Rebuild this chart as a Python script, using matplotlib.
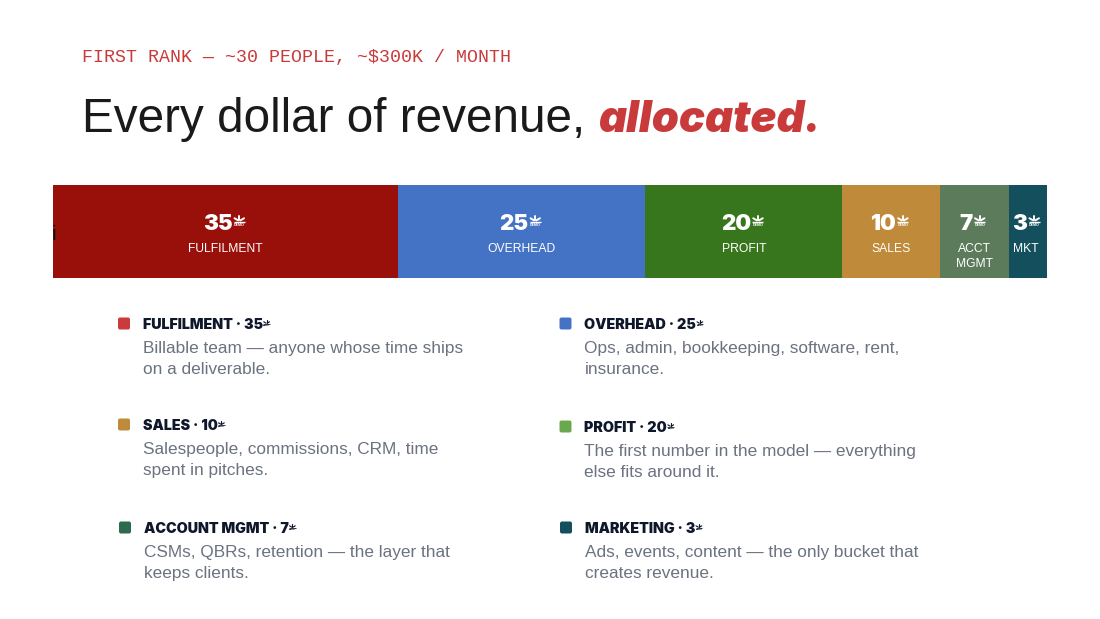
import matplotlib
matplotlib.use("Agg")
import matplotlib.pyplot as plt
from matplotlib.patches import FancyBboxPatch
import numpy as np

W, H = 1100, 619
SANS = "Liberation Sans"
MONO = "Liberation Mono"
HEAVY = "Inter"

# ---- data ----
bar_labels = ["FULFILMENT", "OVERHEAD", "PROFIT", "SALES", "ACCT\nMGMT", "MKT"]
bar_percent = [35, 25, 20, 10, 7, 3]
# widths as drawn: the smallest segment is held wider than its share in the picture
bar_widths = [35, 25.1, 20, 9.85, 7, 3.9]
bar_colors = ["#990F0A", "#4472C4", "#38761D", "#BF8A3A", "#5B7B5B", "#134F5C"]

legend_titles = ["FULFILMENT", "OVERHEAD", "SALES", "PROFIT", "ACCOUNT MGMT", "MARKETING"]
legend_percent = [35, 25, 10, 20, 7, 3]
legend_colors = ["#CC3B3B", "#4472C4", "#BF8A3A", "#6AA84F", "#2D6A4F", "#134F5C"]
legend_text = [
    ["Billable team — anyone whose time ships", "on a deliverable."],
    ["Ops, admin, bookkeeping, software, rent,", "insurance."],
    ["Salespeople, commissions, CRM, time", "spent in pitches."],
    ["The first number in the model — everything", "else fits around it."],
    ["CSMs, QBRs, retention — the layer that", "keeps clients."],
    ["Ads, events, content — the only bucket that", "creates revenue."],
]
legend_x = [118, 559.5, 118, 559.5, 119, 560]
legend_y = [323.5, 323.5, 424.5, 426.5, 527.5, 527.5]

eyebrow = "FIRST RANK — ~30 PEOPLE, ~$300K / MONTH"
title_plain = "Every dollar of revenue,"
title_accent = "allocated."
RED = "#C93A3A"

fig = plt.figure(figsize=(W / 100, H / 100), dpi=100, facecolor="white")

# ---- stacked bar, on its own data scale ----
bx = fig.add_axes([53 / W, 1 - 278 / H, 994 / W, 93.5 / H])
left = 0
lefts = []
for w, c in zip(bar_widths, bar_colors):
    bx.barh(0, w, left=left, height=1, color=c, linewidth=0)
    lefts.append(left)
    left += w
bx.set_xlim(0, sum(bar_widths))
bx.set_ylim(-0.5, 0.5)
bx.axis("off")

# ---- page overlay in pixel coordinates ----
ax = fig.add_axes([0, 0, 1, 1], facecolor="none")
ax.set_xlim(0, W)
ax.set_ylim(H, 0)
ax.axis("off")
renderer = fig.canvas.get_renderer()


def width_of(t):
    return t.get_window_extent(renderer).width


def splash(x, cy, size, color, demo_size):
    """Small splash mark with its tiny caption, as the picture shows after each number."""
    angles = np.deg2rad([90, 30, 150])
    for a in angles:
        r0 = 0.12 * size
        ax.plot([x + r0 * np.cos(a), x + 0.55 * size * np.cos(a)],
                [cy - r0 * np.sin(a), cy - 0.55 * size * np.sin(a)],
                color=color, lw=size * 0.14, solid_capstyle="round")
    ax.plot([x - 0.55 * size, x + 0.55 * size], [cy + 0.12 * size] * 2, color=color,
            lw=size * 0.1, solid_capstyle="butt")
    ax.text(x, cy + size * 0.24, "DEMO", color=color, fontsize=demo_size, family=SANS,
            fontweight="bold", ha="center", va="top")


# header
ax.text(82, 57.5, eyebrow, family=MONO, fontsize=13.14, color=RED, va="center", ha="left")
ax.text(82, 131.5, title_plain, family=SANS, fontsize=34.25, color="#1A1A1A", va="baseline", ha="left")
ax.text(598, 131.5, title_accent, family=HEAVY, fontsize=31.3, color=RED, va="baseline", ha="left",
        fontweight="black", fontstyle="italic")

# stray glyph at the bar's left edge
ax.text(52, 240, "i", family=SANS, fontsize=15, color="#111111", va="baseline", ha="left")

# bar labels
scale = bx.transData
for lab, pct, l, w in zip(bar_labels, bar_percent, lefts, bar_widths):
    x0 = scale.transform((l, 0))[0]
    x1 = scale.transform((l + w, 0))[0]
    cx = (x0 + x1) / 2
    num = ax.text(cx - 8, 223.5, str(pct), family=HEAVY, fontsize=16, fontweight="black",
                  color="white", ha="center", va="center")
    nw = width_of(num)
    splash(cx - 8 + nw / 2 + 7, 221, 10, "white", 2.6)
    if "\n" in lab:
        ax.text(cx, 249, lab.split("\n")[0], family=SANS, fontsize=8.7, color="white", ha="center", va="center")
        ax.text(cx, 264, lab.split("\n")[1], family=SANS, fontsize=8.7, color="white", ha="center", va="center")
    else:
        shift = -2 if lab == "MKT" else 0
        ax.text(cx + shift, 249, lab, family=SANS, fontsize=8.7, color="white", ha="center", va="center")

# legend blocks
for name, pct, c, desc, x, y in zip(legend_titles, legend_percent, legend_colors,
                                    legend_text, legend_x, legend_y):
    ax.add_patch(FancyBboxPatch((x + 1, y - 5), 10, 10, boxstyle="round,pad=1,rounding_size=2",
                                facecolor=c, edgecolor="none"))
    head = ax.text(x + 25, y + 5.5, f"{name} · {pct}", family=HEAVY, fontsize=10.3,
                   fontweight="black", color="#0F172A", ha="left", va="baseline")
    hw = width_of(head)
    splash(x + 25 + hw + 3.5, y, 6, "#0F172A", 1.6)
    for i, line in enumerate(desc):
        ax.text(x + 25, y + 29.5 + 21 * i, line, family=SANS, fontsize=12.4, color="#6B7280",
                ha="left", va="baseline")

fig.savefig("out.png", dpi=100, facecolor="white")
